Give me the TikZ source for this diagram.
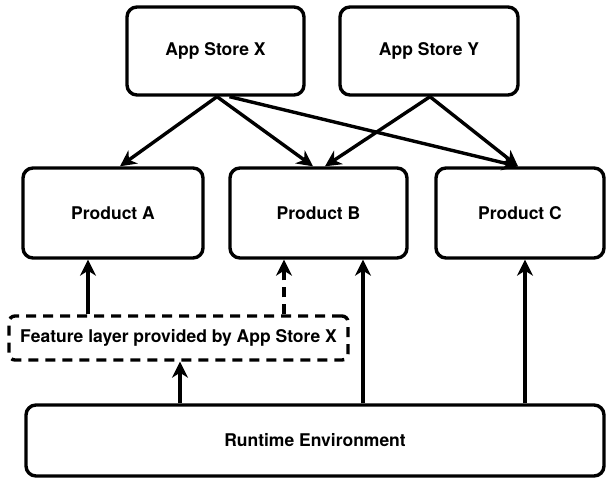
\documentclass[tikz,border=0pt]{standalone}
\usepackage{fontspec}
\setmainfont{TeX Gyre Heros}
\usetikzlibrary{arrows.meta}
\begin{document}
\begin{tikzpicture}[x=1pt,y=-1pt,
  box/.style={draw=black,line width=3.4pt,rounded corners=10pt,fill=white,
    font=\fontsize{17.5}{21}\selectfont\bfseries,inner sep=0pt,align=center},
  layerbox/.style={box,rounded corners=6pt,dash pattern=on 10pt off 7pt},
  conn/.style={line width=3.4pt,-{Stealth[length=16pt,width=16pt,inset=5pt]}},
  dconn/.style={conn,dash pattern=on 10pt off 7pt}]
\useasboundingbox (0,0) rectangle (607,478);
\node[box,minimum width=177pt,minimum height=88pt] (X) at (215.5,51) {App Store X};
\node[box,minimum width=178pt,minimum height=88pt] (Y) at (429,51) {App Store Y};
\node[box,minimum width=180pt,minimum height=90pt] (A) at (113,213) {Product A};
\node[box,minimum width=177pt,minimum height=90pt] (B) at (318.5,213) {Product B};
\node[box,minimum width=168pt,minimum height=90pt] (C) at (520,213) {Product C};
\node[layerbox,minimum width=339pt,minimum height=44pt] (F) at (178.5,338) {Feature layer provided by App Store X};
\node[box,minimum width=578pt,minimum height=71pt] (R) at (315,440.5) {Runtime Environment};
% downward arrows
\draw[conn] ([xshift=1.5pt]X.south) -- ([xshift=7pt]A.north);
\draw[conn] ([xshift=1.5pt]X.south) -- ([xshift=-5.5pt]B.north);
\draw[conn] ([xshift=14pt]X.south) -- ([xshift=-2pt]C.north);
\draw[conn] ([xshift=1pt]Y.south) -- ([xshift=6.5pt]B.north);
\draw[conn] ([xshift=1pt]Y.south) -- ([xshift=-2pt]C.north);
% upward arrows
\draw[conn] ([xshift=-90.5pt]F.north) -- ([xshift=-25pt]A.south);
\draw[dconn] ([xshift=105.5pt]F.north) -- ([xshift=-34.5pt]B.south);
\draw[conn] ([xshift=-135pt]R.north) -- ([xshift=1.5pt]F.south);
\draw[conn] ([xshift=48pt]R.north) -- ([xshift=44.5pt]B.south);
\draw[conn] ([xshift=210pt]R.north) -- ([xshift=5pt]C.south);
\end{tikzpicture}
\end{document}
